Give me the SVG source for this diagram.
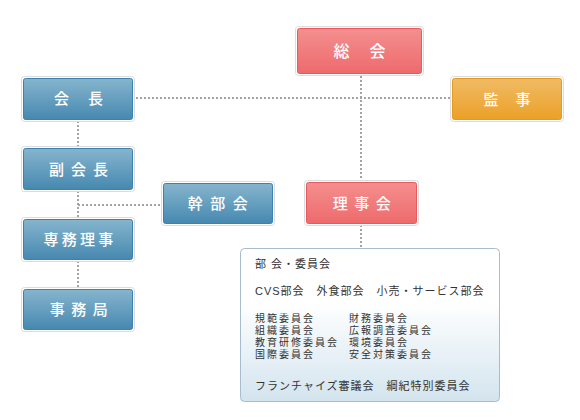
<svg xmlns="http://www.w3.org/2000/svg" width="580" height="420" viewBox="0 0 580 420">
<defs>
<linearGradient id="gBlue" x1="0" y1="0" x2="0" y2="1"><stop offset="0" stop-color="#86b5cd"/><stop offset="1" stop-color="#4688b0"/></linearGradient>
<linearGradient id="gRed" x1="0" y1="0" x2="0" y2="1"><stop offset="0" stop-color="#f48f8f"/><stop offset="1" stop-color="#ee6a6c"/></linearGradient>
<linearGradient id="gOrange" x1="0" y1="0" x2="0" y2="1"><stop offset="0" stop-color="#f0bb66"/><stop offset="1" stop-color="#eca027"/></linearGradient>
<linearGradient id="gPanel" x1="0" y1="0" x2="0" y2="1"><stop offset="0" stop-color="#ffffff"/><stop offset="0.35" stop-color="#ffffff"/><stop offset="1" stop-color="#d3e4ee"/></linearGradient>
</defs>
<style>
.outer{fill:#fff;stroke:#dcdcdc;stroke-width:1}
.blue{fill:url(#gBlue);stroke:#3b82b0;stroke-width:1}
.red{fill:url(#gRed);stroke:#e65a5e;stroke-width:1}
.orange{fill:url(#gOrange);stroke:#e6981f;stroke-width:1}
.lbl{font-family:"Noto Sans CJK JP","Liberation Sans",sans-serif;font-size:15px;font-weight:500;fill:#fff;text-anchor:middle}
.dot{fill:none;stroke:#a3a3a3;stroke-width:2;stroke-dasharray:2 2}
.pt{font-family:"Liberation Sans","Noto Sans CJK JP",sans-serif;font-size:11px;letter-spacing:1px;fill:#333}
.ps{font-family:"Liberation Sans","Noto Sans CJK JP",sans-serif;font-size:10px;letter-spacing:2px;fill:#333}
</style>
<rect width="580" height="420" fill="#fff"/>
<g id="connectors">
<line class="dot" x1="136" y1="98" x2="450" y2="98"/>
<line class="dot" x1="361" y1="76" x2="361" y2="180"/>
<line class="dot" x1="78" y1="121" x2="78" y2="147"/>
<line class="dot" x1="78" y1="191" x2="78" y2="218"/>
<line class="dot" x1="78" y1="205" x2="162" y2="205"/>
<line class="dot" x1="78" y1="261" x2="78" y2="288"/>
<line class="dot" x1="361" y1="225" x2="361" y2="248"/>
</g>
<g id="soukai">
<rect class="outer" x="295.5" y="26.5" width="128" height="49" rx="3"/>
<rect class="red" x="297.5" y="28.5" width="124" height="45" rx="2"/>
<text class="lbl" x="369.5" y="57" style="font-size:16px;letter-spacing:20px">総会</text>
</g>
<g id="kanji">
<rect class="outer" x="450.5" y="76.5" width="113" height="45" rx="3"/>
<rect class="orange" x="452.5" y="78.5" width="109" height="41" rx="2"/>
<text class="lbl" x="515.5" y="104.5" style="letter-spacing:17px">監事</text>
</g>
<g id="kaicho">
<rect class="outer" x="21.5" y="76.5" width="113" height="45" rx="3"/>
<rect class="blue" x="23.5" y="78.5" width="109" height="41" rx="2"/>
<text class="lbl" x="88" y="104" style="letter-spacing:19px">会長</text>
</g>
<g id="fukukaicho">
<rect class="outer" x="21.5" y="146.5" width="113" height="45" rx="3"/>
<rect class="blue" x="23.5" y="148.5" width="109" height="41" rx="2"/>
<text class="lbl" x="82" y="174.5" style="letter-spacing:7px">副会長</text>
</g>
<g id="kanbukai">
<rect class="outer" x="161.5" y="181.5" width="113" height="44" rx="3"/>
<rect class="blue" x="163.5" y="183.5" width="109" height="40" rx="2"/>
<text class="lbl" x="221.5" y="209" style="letter-spacing:7.5px">幹部会</text>
</g>
<g id="senmuriji">
<rect class="outer" x="21.5" y="217.5" width="113" height="44" rx="3"/>
<rect class="blue" x="23.5" y="219.5" width="109" height="40" rx="2"/>
<text class="lbl" x="80" y="245" style="letter-spacing:3.3px">専務理事</text>
</g>
<g id="jimukyoku">
<rect class="outer" x="21.5" y="287.5" width="113" height="44" rx="3"/>
<rect class="blue" x="23.5" y="289.5" width="109" height="40" rx="2"/>
<text class="lbl" x="82" y="315" style="letter-spacing:6.5px">事務局</text>
</g>
<g id="rijikai">
<rect class="outer" x="304.5" y="180.5" width="114" height="45" rx="3"/>
<rect class="red" x="306.5" y="182.5" width="110" height="41" rx="2"/>
<text class="lbl" x="365" y="208.5" style="letter-spacing:6.5px">理事会</text>
</g>
<g id="bukai-panel">
<rect x="240.5" y="248.5" width="259" height="153" rx="4" fill="url(#gPanel)" stroke="#a8bccf" stroke-width="1"/>
<text class="pt" x="255" y="268">部 会・委員会</text>
<text class="pt" x="255" y="295">CVS部会　外食部会　小売・サービス部会</text>
<text class="ps"><tspan x="255" y="322">規範委員会</tspan><tspan x="255" y="334">組織委員会</tspan><tspan x="255" y="346">教育研修委員会</tspan><tspan x="255" y="358">国際委員会</tspan></text>
<text class="ps"><tspan x="349" y="322">財務委員会</tspan><tspan x="349" y="334">広報調査委員会</tspan><tspan x="349" y="346">環境委員会</tspan><tspan x="349" y="358">安全対策委員会</tspan></text>
<text class="pt" x="255" y="389.5">フランチャイズ審議会　綱紀特別委員会</text>
</g>
</svg>
